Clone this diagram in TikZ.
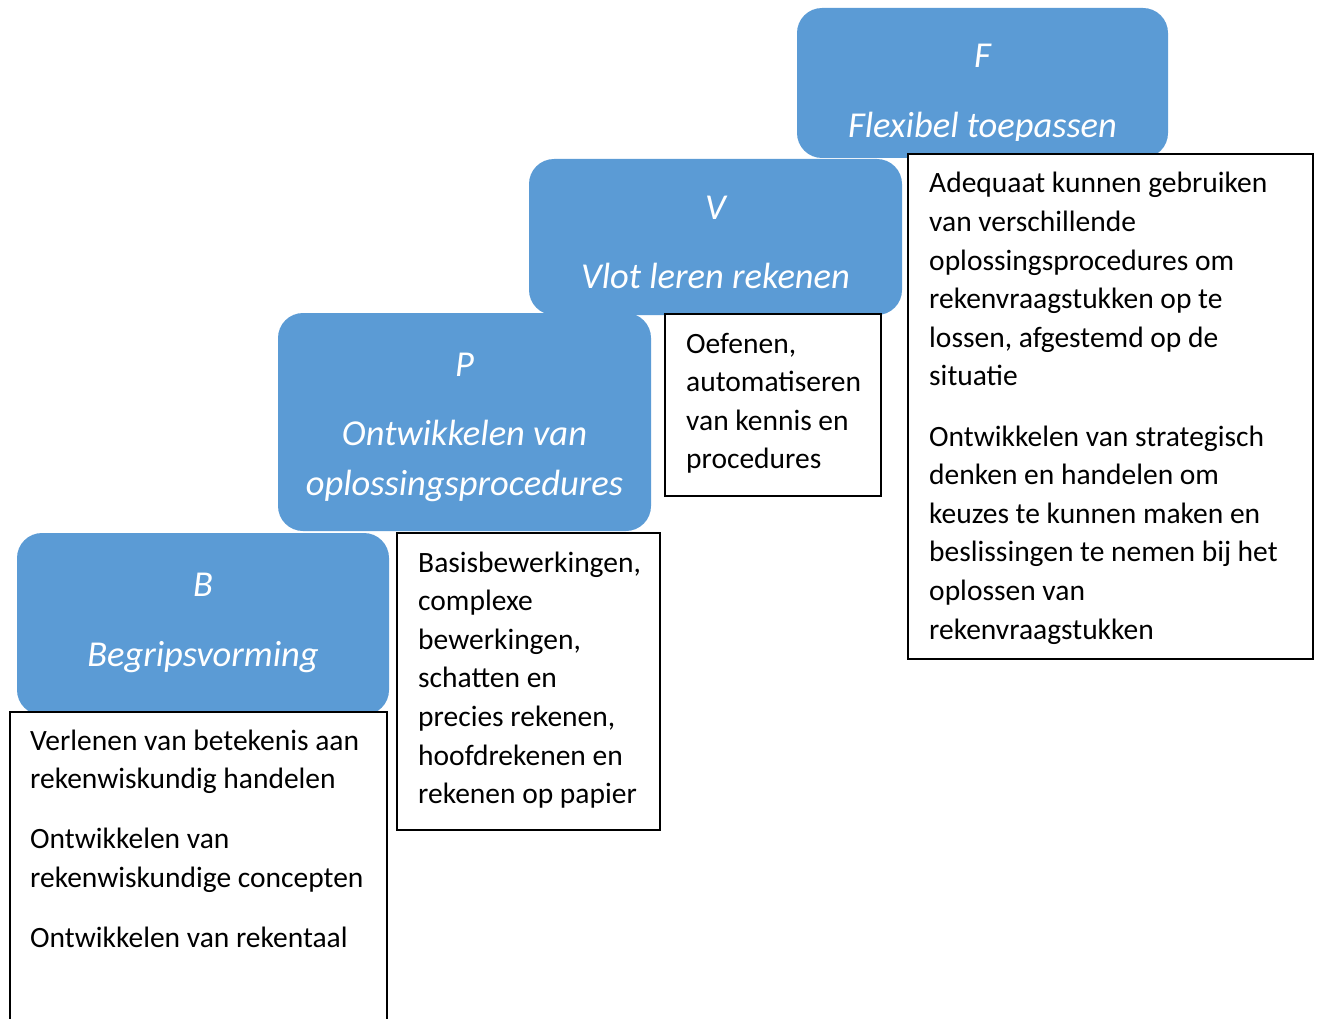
\documentclass[tikz,border=0pt]{standalone}
\usepackage{fontspec}
\setmainfont{Carlito}
\definecolor{stepblue}{RGB}{91,155,213}
\begin{document}
\begin{tikzpicture}[x=1pt,y=-1pt,
  levelbox/.style={fill=stepblue, draw=none, rounded corners=25pt, outer sep=0pt, inner sep=0pt, anchor=north west},
  textframe/.style={draw=black, line width=1.5pt, fill=white, outer sep=0pt, inner sep=0pt, anchor=north west},
  lettertext/.style={text=white, font=\fontsize{36.5}{50}\selectfont\itshape, inner sep=0pt, anchor=base},
  bodytext/.style={inner sep=0pt, anchor=base west, font=\fontsize{29.5}{38.6}\selectfont}
]
\useasboundingbox (0,0) rectangle (1319,1019);
\clip (0,0) rectangle (1319,1019);

% level boxes
\node[levelbox, minimum width=371pt, minimum height=150pt] (F) at (797,8) {};
\node[levelbox, minimum width=373pt, minimum height=156pt] (V) at (529,159) {};
\node[levelbox, minimum width=373pt, minimum height=218pt] (P) at (278,313) {};
\node[levelbox, minimum width=372pt, minimum height=182pt] (B) at (17,533) {};

% level texts
\node[lettertext] (Fl) at ([yshift=-60pt]F.north) {F};
\begin{scope}
  \clip (797,8) rectangle (1168,141);
  \node[lettertext] (Ft) at ([yshift=-130pt]F.north) {Flexibel toepassen};
\end{scope}
\node[lettertext] (Vl) at ([yshift=-60pt]V.north) {V};
\node[lettertext] (Vt) at ([yshift=-129pt]V.north) {Vlot leren rekenen};
\node[lettertext] (Pl) at ([yshift=-63pt]P.north) {P};
\node[lettertext] (Pt) at ([yshift=-132pt]P.north) {\parbox[t]{373pt}{\centering Ontwikkelen van\\ oplossingsprocedures}};
\node[lettertext] (Bl) at ([yshift=-63pt]B.north) {B};
\node[lettertext] (Bt) at ([yshift=-133pt]B.north) {Begripsvorming};

% text frames
\node[textframe, minimum width=405pt, minimum height=505pt] (TF) at (908,154) {};
\node[bodytext] (TFt) at ([xshift=21pt,yshift=-39pt]TF.north west) {\parbox[t]{390pt}{\raggedright
Adequaat kunnen gebruiken\\ van verschillende\\ oplossingsprocedures om\\ rekenvraagstukken op te\\ lossen, afgestemd op de\\ situatie\\[21.4pt]
Ontwikkelen van strategisch\\ denken en handelen om\\ keuzes te kunnen maken en\\ beslissingen te nemen bij het\\ oplossen van\\ rekenvraagstukken}};

\node[textframe, minimum width=216pt, minimum height=182pt] (TV) at (665,314) {};
\node[bodytext] (TVt) at ([xshift=21pt,yshift=-39pt]TV.north west) {\parbox[t]{200pt}{\raggedright
Oefenen,\\ automatiseren\\ van kennis en\\ procedures}};

\node[textframe, minimum width=263pt, minimum height=297pt] (TP) at (397,533) {};
\node[bodytext] (TPt) at ([xshift=21pt,yshift=-39pt]TP.north west) {\parbox[t]{250pt}{\raggedright
Basisbewerkingen,\\ complexe\\ bewerkingen,\\ schatten en\\ precies rekenen,\\ hoofdrekenen en\\ rekenen op papier}};

\node[textframe, minimum width=377pt, minimum height=340pt] (TB) at (10,712) {};
\node[bodytext] (TBt) at ([xshift=20pt,yshift=-38pt]TB.north west) {\parbox[t]{370pt}{\raggedright
Verlenen van betekenis aan\\ rekenwiskundig handelen\\[21.4pt]
Ontwikkelen van\\ rekenwiskundige concepten\\[21.4pt]
Ontwikkelen van rekentaal}};
\end{tikzpicture}
\end{document}
